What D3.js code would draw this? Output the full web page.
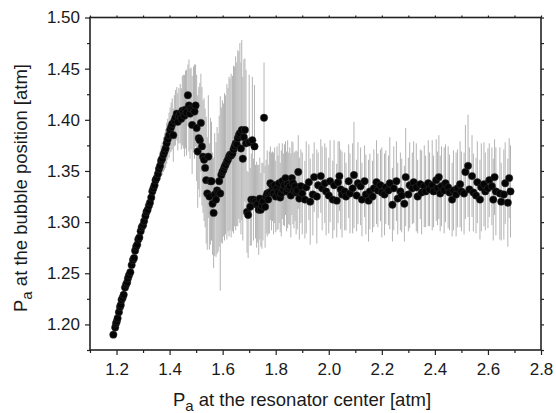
<!DOCTYPE html>
<html>
<head>
<meta charset="utf-8">
<script src="https://cdn.jsdelivr.net/npm/d3@7"></script>
<style>
  body { margin: 0; background: #fff; }
  svg { display: block; }
</style>
</head>
<body>
<div id="chart"></div>
<script>
// [center pressure, bubble pressure, half error bar] in atm
const riseData = [
  [1.188, 1.190, .003], [1.195, 1.197, .003], [1.198, 1.201, .003], [1.201, 1.203, .003],
  [1.204, 1.206, .003], [1.209, 1.212, .003], [1.213, 1.217, .003], [1.216, 1.219, .003],
  [1.219, 1.224, .003], [1.223, 1.226, .003], [1.227, 1.229, .003], [1.232, 1.236, .003],
  [1.236, 1.239, .003], [1.240, 1.241, .003], [1.243, 1.245, .003], [1.247, 1.248, .003],
  [1.252, 1.251, .003], [1.257, 1.258, .003], [1.262, 1.263, .003], [1.266, 1.265, .003],
  [1.270, 1.272, .003], [1.274, 1.276, .003], [1.278, 1.278, .003], [1.282, 1.283, .003],
  [1.286, 1.285, .003], [1.291, 1.291, .003], [1.295, 1.295, .003], [1.300, 1.297, .003],
  [1.304, 1.301, .003], [1.309, 1.306, .003], [1.313, 1.310, .004], [1.317, 1.312, .004],
  [1.322, 1.316, .004], [1.326, 1.319, .005], [1.331, 1.324, .006], [1.335, 1.330, .007],
  [1.339, 1.333, .008], [1.343, 1.336, .008], [1.347, 1.341, .010], [1.351, 1.343, .010],
  [1.356, 1.347, .012], [1.360, 1.352, .012], [1.364, 1.355, .014], [1.368, 1.360, .015],
  [1.372, 1.362, .016], [1.377, 1.366, .017], [1.381, 1.369, .018], [1.385, 1.372, .019],
  [1.389, 1.377, .020], [1.393, 1.381, .020], [1.398, 1.385, .022], [1.402, 1.390, .022],
  [1.406, 1.393, .024], [1.410, 1.396, .025], [1.414, 1.385, .026], [1.418, 1.399, .025],
  [1.422, 1.402, .027], [1.427, 1.406, .026], [1.431, 1.398, .028], [1.435, 1.404, .027],
  [1.440, 1.406, .029]
];

const peakData = [
  [1.444, 1.401, .030], [1.448, 1.409, .034], [1.452, 1.408, .036], [1.456, 1.404, .040],
  [1.460, 1.410, .038], [1.464, 1.407, .042], [1.469, 1.424, .030], [1.473, 1.414, .045],
  [1.477, 1.406, .044], [1.481, 1.411, .040], [1.485, 1.395, .048], [1.490, 1.410, .042],
  [1.494, 1.408, .046], [1.498, 1.414, .040], [1.502, 1.392, .052], [1.506, 1.369, .055],
  [1.510, 1.382, .050], [1.514, 1.380, .056], [1.518, 1.397, .048], [1.522, 1.374, .058],
  [1.526, 1.364, .055], [1.530, 1.361, .060], [1.534, 1.353, .058], [1.538, 1.341, .062],
  [1.542, 1.328, .055], [1.546, 1.364, .060], [1.550, 1.325, .052], [1.554, 1.340, .062],
  [1.558, 1.340, .058], [1.562, 1.318, .050], [1.566, 1.309, .054], [1.570, 1.327, .060],
  [1.575, 1.322, .056], [1.579, 1.331, .062], [1.583, 1.329, .058], [1.587, 1.340, .064],
  [1.591, 1.328, .095], [1.595, 1.346, .066]
];

const dipData = [
  [1.599, 1.349, .070], [1.603, 1.351, .065], [1.607, 1.354, .072], [1.611, 1.356, .068],
  [1.616, 1.359, .076], [1.620, 1.361, .070], [1.624, 1.364, .078], [1.628, 1.366, .074],
  [1.632, 1.365, .080], [1.637, 1.367, .076], [1.641, 1.371, .082], [1.645, 1.374, .078],
  [1.649, 1.377, .085], [1.653, 1.376, .080], [1.657, 1.382, .086], [1.661, 1.385, .082],
  [1.665, 1.387, .088], [1.669, 1.372, .084], [1.672, 1.390, .088], [1.676, 1.362, .080],
  [1.680, 1.383, .076], [1.684, 1.390, .070], [1.688, 1.377, .072], [1.692, 1.310, .040],
  [1.696, 1.307, .042], [1.700, 1.378, .066], [1.704, 1.315, .038], [1.708, 1.322, .045],
  [1.712, 1.380, .062], [1.716, 1.322, .040], [1.720, 1.374, .060], [1.724, 1.320, .036],
  [1.728, 1.317, .042], [1.732, 1.318, .038], [1.736, 1.312, .044], [1.740, 1.323, .040],
  [1.744, 1.312, .036], [1.748, 1.316, .042], [1.752, 1.320, .038], [1.756, 1.402, .054],
  [1.760, 1.315, .040], [1.764, 1.325, .036], [1.768, 1.328, .042], [1.772, 1.322, .034],
  [1.776, 1.329, .040], [1.780, 1.338, .036], [1.784, 1.330, .038], [1.788, 1.335, .034],
  [1.792, 1.328, .040], [1.796, 1.336, .037], [1.800, 1.325, .035], [1.805, 1.333, .041],
  [1.809, 1.329, .036], [1.813, 1.338, .039], [1.817, 1.324, .034], [1.821, 1.328, .042],
  [1.825, 1.340, .037], [1.829, 1.332, .035], [1.833, 1.336, .040], [1.837, 1.343, .036],
  [1.841, 1.330, .039], [1.845, 1.337, .043], [1.849, 1.333, .035], [1.853, 1.335, .038],
  [1.857, 1.326, .041], [1.861, 1.343, .036], [1.865, 1.338, .040], [1.869, 1.331, .037],
  [1.873, 1.335, .034], [1.877, 1.329, .041], [1.881, 1.331, .038], [1.885, 1.349, .036],
  [1.889, 1.323, .040]
];

const plateauData = [
  [1.895, 1.335, .036], [1.900, 1.328, .040], [1.910, 1.322, .038], [1.915, 1.334, .045],
  [1.925, 1.339, .037], [1.930, 1.320, .042], [1.940, 1.327, .040], [1.945, 1.344, .034],
  [1.955, 1.325, .046], [1.960, 1.336, .032], [1.970, 1.345, .036], [1.975, 1.333, .041],
  [1.985, 1.338, .039], [1.990, 1.330, .043], [2.000, 1.326, .037], [2.005, 1.340, .040],
  [2.015, 1.322, .038], [2.020, 1.336, .044], [2.030, 1.321, .036], [2.035, 1.339, .040],
  [2.040, 1.345, .034], [2.045, 1.332, .039], [2.050, 1.327, .042], [2.060, 1.330, .038],
  [2.065, 1.325, .033], [2.075, 1.340, .036], [2.080, 1.328, .039], [2.090, 1.333, .044],
  [2.095, 1.346, .052], [2.105, 1.326, .035], [2.110, 1.338, .040], [2.120, 1.335, .038],
  [2.125, 1.322, .036], [2.135, 1.340, .035], [2.140, 1.327, .039], [2.150, 1.321, .040],
  [2.155, 1.330, .037], [2.165, 1.325, .035], [2.170, 1.333, .038], [2.180, 1.339, .041],
  [2.185, 1.331, .036], [2.195, 1.336, .035], [2.200, 1.329, .044], [2.210, 1.327, .040],
  [2.215, 1.334, .036], [2.225, 1.331, .034], [2.230, 1.338, .045], [2.240, 1.317, .036],
  [2.245, 1.333, .041], [2.255, 1.340, .039], [2.260, 1.323, .035], [2.270, 1.330, .038],
  [2.275, 1.326, .036], [2.285, 1.318, .037], [2.290, 1.344, .048], [2.300, 1.327, .036],
  [2.305, 1.336, .042], [2.315, 1.333, .035], [2.320, 1.339, .040], [2.330, 1.334, .043],
  [2.335, 1.325, .036], [2.345, 1.337, .034], [2.350, 1.329, .041], [2.360, 1.335, .040],
  [2.365, 1.330, .035], [2.375, 1.338, .042], [2.380, 1.332, .036], [2.390, 1.336, .044],
  [2.395, 1.330, .035], [2.405, 1.341, .040], [2.410, 1.333, .036], [2.415, 1.344, .041],
  [2.420, 1.328, .037], [2.425, 1.335, .039], [2.435, 1.331, .042], [2.440, 1.338, .038],
  [2.450, 1.334, .040], [2.455, 1.329, .037], [2.465, 1.322, .036], [2.470, 1.331, .039],
  [2.480, 1.327, .041], [2.485, 1.333, .038], [2.495, 1.337, .042], [2.500, 1.330, .039],
  [2.510, 1.328, .040], [2.515, 1.349, .046], [2.525, 1.355, .050], [2.530, 1.332, .041],
  [2.540, 1.345, .040], [2.545, 1.329, .038], [2.555, 1.326, .037], [2.560, 1.339, .040],
  [2.570, 1.322, .039], [2.575, 1.334, .043], [2.585, 1.337, .041], [2.590, 1.330, .038],
  [2.600, 1.333, .039], [2.605, 1.341, .036], [2.615, 1.335, .038], [2.620, 1.322, .040],
  [2.625, 1.344, .037], [2.630, 1.330, .043], [2.645, 1.328, .045], [2.650, 1.320, .038],
  [2.660, 1.327, .044], [2.665, 1.338, .040], [2.675, 1.319, .043], [2.680, 1.343, .039],
  [2.685, 1.330, .045]
];

const xTicks = [1.2, 1.4, 1.6, 1.8, 2.0, 2.2, 2.4, 2.6, 2.8];
const xMinorTicks = [1.1, 1.3, 1.5, 1.7, 1.9, 2.1, 2.3, 2.5, 2.7];
const yTicks = [1.20, 1.25, 1.30, 1.35, 1.40, 1.45, 1.50];
const yMinorTicks = [1.175, 1.225, 1.275, 1.325, 1.375, 1.425, 1.475];

const data = riseData.concat(peakData, dipData, plateauData)
  .map(d => ({ center: d[0], bubble: d[1], err: d[2] }));

const width = 556,
    height = 413,
    margin = { top: 17.5, right: 15, bottom: 63, left: 90 },
    font = "'Liberation Sans', Arial, sans-serif";

const xScale = d3.scaleLinear()
    .domain([1.1, 2.8])
    .range([margin.left, width - margin.right]);

const yScale = d3.scaleLinear()
    .domain([1.175, 1.5])
    .range([height - margin.bottom, margin.top]);

const svg = d3.select("#chart")
    .append("svg")
    .attr("width", width)
    .attr("height", height);

// error bars first, dots on top
svg.append("g")
    .selectAll("line")
    .data(data)
    .join("line")
    .attr("x1", d => xScale(d.center))
    .attr("x2", d => xScale(d.center))
    .attr("y1", d => yScale(d.bubble - d.err))
    .attr("y2", d => yScale(d.bubble + d.err))
    .attr("stroke", "#b4b4b4")
    .attr("stroke-width", 1);

svg.append("g")
    .selectAll("circle")
    .data(data)
    .join("circle")
    .attr("cx", d => xScale(d.center))
    .attr("cy", d => yScale(d.bubble))
    .attr("r", 3.7)
    .attr("fill", "#050505")
    .attr("stroke", "#333")
    .attr("stroke-width", 0.5);

const x0 = margin.left, x1 = width - margin.right;
const y0 = height - margin.bottom, y1 = margin.top;
const allX = xTicks.concat(xMinorTicks);
const allY = yTicks.concat(yMinorTicks);

function styleAxis(g) {
  g.select(".domain").remove();
  g.selectAll("line").attr("stroke", "#222").attr("stroke-width", 1.2);
  g.attr("font-family", font).attr("font-size", 17);
  g.selectAll("text").attr("fill", "#1a1a1a");
}

// bottom
svg.append("g")
    .attr("transform", `translate(0,${y0})`)
    .call(d3.axisBottom(xScale).tickValues(xTicks).tickFormat(d3.format(".1f")).tickSize(5).tickPadding(8))
    .call(styleAxis);
svg.append("g")
    .attr("transform", `translate(0,${y0})`)
    .call(d3.axisBottom(xScale).tickValues(xMinorTicks).tickFormat("").tickSize(3))
    .call(styleAxis);

// left
svg.append("g")
    .attr("transform", `translate(${x0},0)`)
    .call(d3.axisLeft(yScale).tickValues(yTicks).tickFormat(d3.format(".2f")).tickSize(5).tickPadding(5))
    .call(styleAxis);
svg.append("g")
    .attr("transform", `translate(${x0},0)`)
    .call(d3.axisLeft(yScale).tickValues(yMinorTicks).tickFormat("").tickSize(3))
    .call(styleAxis);

// mirrored top and right ticks
svg.append("g")
    .attr("transform", `translate(0,${y1})`)
    .call(d3.axisTop(xScale).tickValues(allX).tickFormat("").tickSize(2))
    .call(styleAxis);
svg.append("g")
    .attr("transform", `translate(${x1},0)`)
    .call(d3.axisRight(yScale).tickValues(allY).tickFormat("").tickSize(3))
    .call(styleAxis);

// frame
svg.append("rect")
    .attr("x", x0)
    .attr("y", y1)
    .attr("width", x1 - x0)
    .attr("height", y0 - y1)
    .attr("fill", "none")
    .attr("stroke", "#222")
    .attr("stroke-width", 1.6);

// axis titles
const xTitle = svg.append("text")
    .attr("x", 302)
    .attr("y", 406)
    .attr("text-anchor", "middle")
    .attr("font-family", font)
    .attr("font-size", 18.5)
    .attr("fill", "#1a1a1a");
xTitle.append("tspan").text("P");
xTitle.append("tspan").attr("dy", 5).attr("font-size", 15).text("a");
xTitle.append("tspan").attr("dy", -5).text(" at the resonator center [atm]");

const yTitle = svg.append("text")
    .attr("transform", "translate(27,188) rotate(-90)")
    .attr("text-anchor", "middle")
    .attr("font-family", font)
    .attr("font-size", 18.5)
    .attr("fill", "#1a1a1a");
yTitle.append("tspan").text("P");
yTitle.append("tspan").attr("dy", 5).attr("font-size", 15).text("a");
yTitle.append("tspan").attr("dy", -5).text(" at the bubble position [atm]");
</script>
</body>
</html>
